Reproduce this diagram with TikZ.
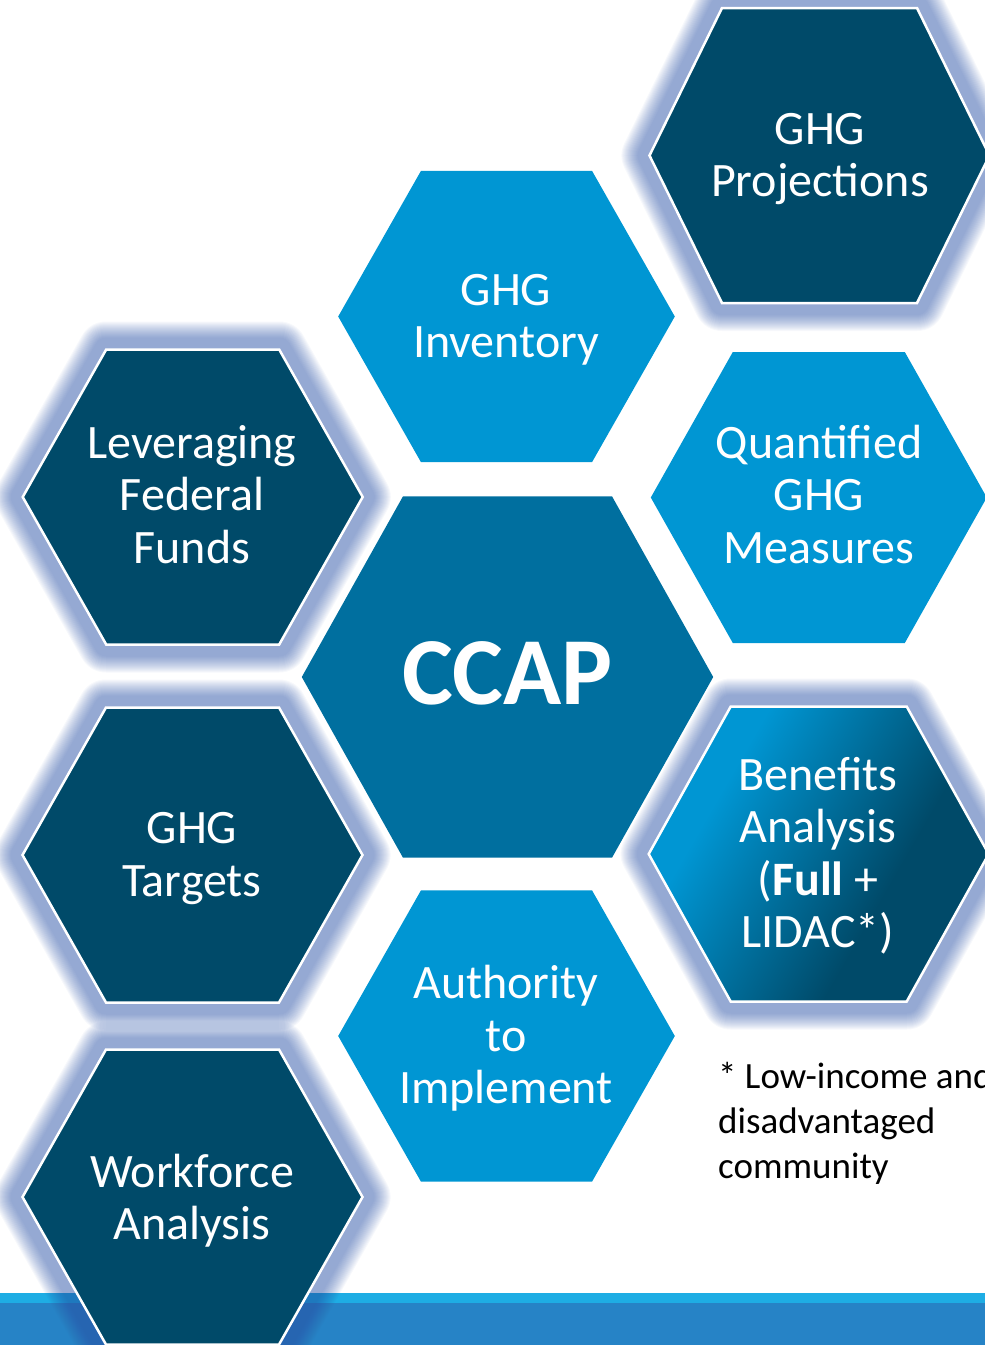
\documentclass[tikz,border=0pt]{standalone}
\usepackage{fontspec}
\setmainfont{Carlito}
\usetikzlibrary{positioning}

\definecolor{hexdark}{RGB}{0,74,105}
\definecolor{hexbright}{RGB}{0,150,211}
\definecolor{hexmid}{RGB}{0,111,159}
\definecolor{glowblue}{RGB}{40,80,165}
\definecolor{bandlight}{RGB}{30,173,228}
\definecolor{bandmain}{RGB}{38,131,198}

\pgfdeclareverticalshading{benefshade}{100bp}{color(0bp)=(hexdark); color(38bp)=(hexdark); color(68bp)=(hexbright); color(100bp)=(hexbright)}

% hexagon outline: centre x, centre y, half top edge, half width, half height
\newcommand{\hexpath}[5]{(#1-#4,#2) -- (#1-#3,#2-#5) -- (#1+#3,#2-#5) -- (#1+#4,#2) -- (#1+#3,#2+#5) -- (#1-#3,#2+#5) -- cycle}

\begin{document}
\begin{tikzpicture}[
  x=1pt, y=-1pt,
  glow/.style={draw=glowblue, draw opacity=0.038, line join=round},
  darkhex/.style={fill=hexdark, draw=white, line width=2.5pt},
  brighthex/.style={fill=hexbright},
  hextext/.style={text=white, align=center, inner sep=0pt, font=\fontsize{48}{52.5}\selectfont},
  notetext/.style={text=black, align=left, inner sep=0pt, font=\fontsize{37}{45}\selectfont}
]
\useasboundingbox (0,0) rectangle (985,1345);
\clip (0,0) rectangle (985,1345);

% bottom band
\fill[bandlight] (0,1293) rectangle (985,1303);
\fill[bandmain] (0,1303) rectangle (985,1345);

% soft glow behind the dark hexagons
\foreach \cx/\cy/\t in {819.5/155.5/97.5, 192.7/497/86.5, 192.5/855/86.5, 818.7/854/88, 192.5/1197/86.5}
  \foreach \w in {24,26,...,56}
    \draw[glow, line width=\w pt] \hexpath{\cx}{\cy}{\t}{170}{147.5};

% hexagons
\draw[darkhex] \hexpath{819.5}{155.5}{97.5}{170}{147.5};
\fill[brighthex] \hexpath{506.5}{316.5}{85.5}{168.3}{145.7};
\draw[darkhex] \hexpath{192.7}{497}{86.5}{170}{147.5};
\fill[brighthex] \hexpath{818.8}{497.5}{86}{168}{145.5};
\fill[hexmid] \hexpath{507.5}{677}{104.5}{205.7}{180.7};
\draw[darkhex] \hexpath{192.5}{855}{86.5}{170}{147.5};
\draw[darkhex, shade, shading=benefshade, shading angle=60] \hexpath{818.7}{854}{88}{170}{147.5};
\fill[brighthex] \hexpath{506.5}{1036}{85.5}{168.3}{145.7};
\draw[darkhex] \hexpath{192.5}{1197}{86.5}{170}{147.5};

% labels
\node[hextext] (proj) at (820,159) {GHG\\Projections};
\node[hextext] (inv) at (506,320) {GHG\\Inventory};
\node[hextext] (lev) at (192,494.5) {Leveraging\\Federal\\Funds};
\node[hextext] (quant) at (819,494.5) {Quantified\\GHG\\Measures};
\node[text=white, inner sep=0pt, font=\fontsize{96}{100}\selectfont\bfseries] (ccap) at (507.5,673) {CCAP};
\node[hextext] (tgt) at (192,858.5) {GHG\\Targets};
\node[hextext] (ben) at (818,855.5) {Benefits\\Analysis\\(\textbf{Full} +\\LIDAC*)};
\node[hextext] (auth) at (506,1038.5) {Authority\\to\\Implement};
\node[hextext] (work) at (192,1200.5) {Workforce\\Analysis};

% footnote
\node[notetext, anchor=north west] (note) at (718,1062) {* Low-income and\\disadvantaged\\community};
\end{tikzpicture}
\end{document}
